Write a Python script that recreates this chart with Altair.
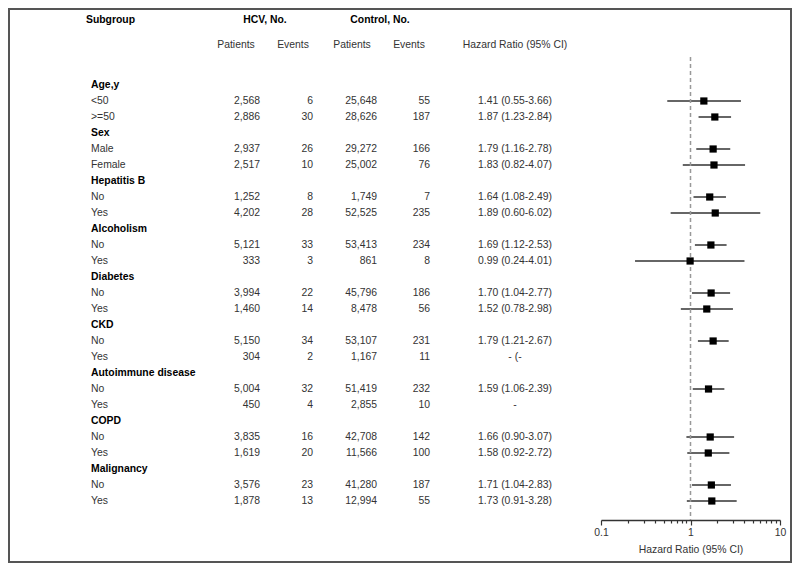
import altair as alt
import pandas as pd

# ---------------- data ----------------
groups = ["Age,y", "Sex", "Hepatitis B", "Alcoholism", "Diabetes", "CKD",
          "Autoimmune disease", "COPD", "Malignancy"]
sub_labels = ["<50", ">=50", "Male", "Female", "No", "Yes", "No", "Yes",
              "No", "Yes", "No", "Yes", "No", "Yes", "No", "Yes", "No", "Yes"]
hcv_patients = [2568, 2886, 2937, 2517, 1252, 4202, 5121, 333, 3994, 1460,
                5150, 304, 5004, 450, 3835, 1619, 3576, 1878]
hcv_events = [6, 30, 26, 10, 8, 28, 33, 3, 22, 14, 34, 2, 32, 4, 16, 20, 23, 13]
ctrl_patients = [25648, 28626, 29272, 25002, 1749, 52525, 53413, 861, 45796, 8478,
                 53107, 1167, 51419, 2855, 42708, 11566, 41280, 12994]
ctrl_events = [55, 187, 166, 76, 7, 235, 234, 8, 186, 56, 231, 11, 232, 10,
               142, 100, 187, 55]
hr = [1.41, 1.87, 1.79, 1.83, 1.64, 1.89, 1.69, 0.99, 1.70, 1.52, 1.79, None,
      1.59, None, 1.66, 1.58, 1.71, 1.73]
hr_lo = [0.55, 1.23, 1.16, 0.82, 1.08, 0.60, 1.12, 0.24, 1.04, 0.78, 1.21, None,
         1.06, None, 0.90, 0.92, 1.04, 0.91]
hr_hi = [3.66, 2.84, 2.78, 4.07, 2.49, 6.02, 2.53, 4.01, 2.77, 2.98, 2.67, None,
         2.39, None, 3.07, 2.72, 2.83, 3.28]
hr_text_missing = {11: "- (-", 13: "-"}
x_tick_values = [0.1, 0.2, 0.3, 0.4, 0.5, 0.6, 0.7, 0.8, 0.9,
                 1, 2, 3, 4, 5, 6, 7, 8, 9, 10]

# ---------------- tables ----------------
grp_df = pd.DataFrame({"row": [3 * i for i in range(len(groups))], "label": groups})

sub_rows = []
for i in range(len(sub_labels)):
    g = i // 2
    r = 3 * g + 1 + (i % 2)
    if hr[i] is None:
        txt = hr_text_missing.get(i, "-")
    else:
        txt = f"{hr[i]:.2f} ({hr_lo[i]:.2f}-{hr_hi[i]:.2f})"
    sub_rows.append({
        "row": r, "label": sub_labels[i],
        "hp": f"{hcv_patients[i]:,}", "he": str(hcv_events[i]),
        "cp": f"{ctrl_patients[i]:,}", "ce": str(ctrl_events[i]),
        "hrt": txt, "hr": hr[i], "lo": hr_lo[i], "hi": hr_hi[i],
    })
sub_df = pd.DataFrame(sub_rows)
forest_df = sub_df.dropna(subset=["hr"])

FONT = "Liberation Sans"
FS = 10.4
TXT = "#333333"

yscale = alt.Scale(domain=[0, 26], range=[77, 493])
Y = alt.Y("row:Q", scale=yscale, axis=None)

xscale = alt.Scale(type="log", domain=[0.1, 10], range=[593, 772])


def header(label, x, y, bold, align="center"):
    return alt.Chart(alt.Data(values=[{}])).mark_text(
        text=label, font=FONT, fontSize=FS, align=align, baseline="middle",
        fontWeight="bold" if bold else "normal",
        color="#000000" if bold else TXT,
    ).encode(x=alt.value(x), y=alt.value(y))


headers = [
    header("Subgroup", 78, 12, True, "left"),
    header("HCV, No.", 257, 12, True),
    header("Control, No.", 372, 12, True),
    header("Patients", 228, 37, False),
    header("Events", 285, 37, False),
    header("Patients", 344, 37, False),
    header("Events", 401, 37, False),
    header("Hazard Ratio (95% CI)", 507, 37, False),
]

grp_text = alt.Chart(grp_df).mark_text(
    font=FONT, fontSize=FS, fontWeight="bold", align="left", baseline="middle",
    color="#000000"
).encode(y=Y, x=alt.value(83), text="label:N")

base_sub = alt.Chart(sub_df)


def col(field, x, align):
    return base_sub.mark_text(
        font=FONT, fontSize=FS, align=align, baseline="middle", color=TXT
    ).encode(y=Y, x=alt.value(x), text=f"{field}:N")


cols = [
    col("label", 83, "left"),
    col("hp", 252, "right"),
    col("he", 305, "right"),
    col("cp", 369, "right"),
    col("ce", 422, "right"),
    col("hrt", 507, "center"),
]

ci = alt.Chart(forest_df).mark_rule(color="#333333", strokeWidth=1.5).encode(
    x=alt.X("lo:Q", scale=xscale, axis=alt.Axis(
        title="Hazard Ratio (95% CI)", values=x_tick_values,
        labelExpr="(datum.value == 0.1 || datum.value == 1 || datum.value == 10) ? toString(datum.value) : ''",
        labelOverlap=False, labelBound=False, labelFlush=False,
        tickSize={"condition": {"test": "datum.value == 0.1 || datum.value == 1 || datum.value == 10", "value": 5}, "value": 3},
        tickColor="#333333", domainColor="#333333", domainWidth=1.5, tickWidth=1.2,
        labelFont=FONT, labelFontSize=FS, labelColor=TXT, labelPadding=2,
        titleFont=FONT, titleFontSize=FS, titleFontWeight="normal", titleColor=TXT,
        titlePadding=7, grid=False,
    )),
    x2="hi:Q",
    y=Y,
)

squares = alt.Chart(forest_df).mark_square(
    size=52, color="#000000", opacity=1, filled=True
).encode(x=alt.X("hr:Q", scale=xscale), y=Y)

ref = alt.Chart(alt.Data(values=[{}])).mark_rule(
    color="#999999", strokeDash=[4, 3], strokeWidth=1.5
).encode(x=alt.datum(1, scale=xscale) if False else alt.datum(1), y=alt.value(49), y2=alt.value(512))

border = alt.Chart(alt.Data(values=[{}])).mark_rect(
    fillOpacity=0, stroke="#555555", strokeWidth=2
).encode(x=alt.value(1), x2=alt.value(783), y=alt.value(1), y2=alt.value(554))

chart = alt.layer(
    border, *headers, grp_text, *cols, ci, ref, squares
).properties(
    width=784, height=512,
    autosize=alt.AutoSizeParams(type="none"),
    padding={"left": 0, "top": 0, "right": 0, "bottom": 43},
).configure_view(strokeWidth=0)

chart.save("out.html", embed_options={"renderer": "svg", "actions": False})
